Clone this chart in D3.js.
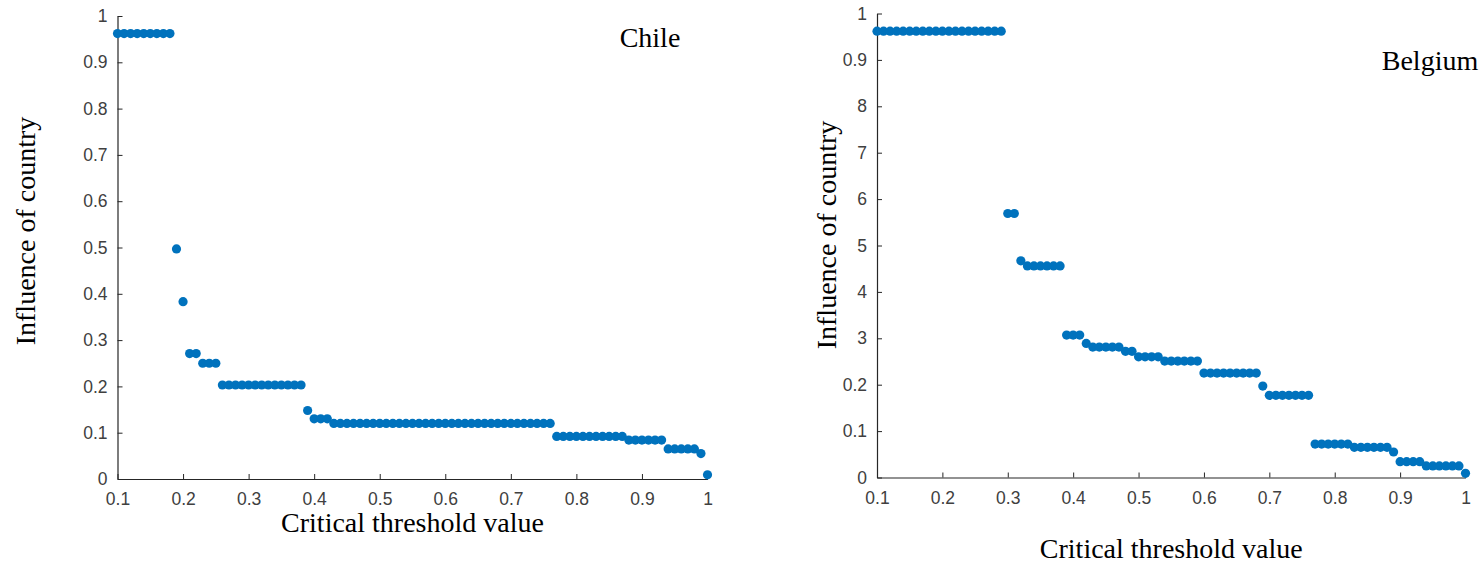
<!DOCTYPE html>
<html>
<head>
<meta charset="utf-8">
<script src="https://cdn.jsdelivr.net/npm/d3@7"></script>
<style>
  body { margin: 0; background: #fff; }
  svg { display: block; }
  .tick text { font-family: "Liberation Sans", Arial, sans-serif; font-size: 17.5px; fill: #404040; }
  .title { font-family: "Liberation Serif", "Times New Roman", serif; font-size: 28px; fill: #000; }
</style>
</head>
<body>
<svg id="chart" width="1484" height="563"></svg>
<script>
// Critical threshold values (shared x positions)
const thresholds = [
  0.10, 0.11, 0.12, 0.13, 0.14, 0.15, 0.16, 0.17, 0.18, 0.19,
  0.20, 0.21, 0.22, 0.23, 0.24, 0.25, 0.26, 0.27, 0.28, 0.29,
  0.30, 0.31, 0.32, 0.33, 0.34, 0.35, 0.36, 0.37, 0.38, 0.39,
  0.40, 0.41, 0.42, 0.43, 0.44, 0.45, 0.46, 0.47, 0.48, 0.49,
  0.50, 0.51, 0.52, 0.53, 0.54, 0.55, 0.56, 0.57, 0.58, 0.59,
  0.60, 0.61, 0.62, 0.63, 0.64, 0.65, 0.66, 0.67, 0.68, 0.69,
  0.70, 0.71, 0.72, 0.73, 0.74, 0.75, 0.76, 0.77, 0.78, 0.79,
  0.80, 0.81, 0.82, 0.83, 0.84, 0.85, 0.86, 0.87, 0.88, 0.89,
  0.90, 0.91, 0.92, 0.93, 0.94, 0.95, 0.96, 0.97, 0.98, 0.99,
  1.00
];

// Influence of Chile
const chileValues = [
  0.962, 0.962, 0.962, 0.962, 0.962, 0.962, 0.962, 0.962, 0.962, 0.497,
  0.383, 0.271, 0.271, 0.250, 0.250, 0.250, 0.203, 0.203, 0.203, 0.203,
  0.203, 0.203, 0.203, 0.203, 0.203, 0.203, 0.203, 0.203, 0.203, 0.148,
  0.130, 0.130, 0.130, 0.120, 0.120, 0.120, 0.120, 0.120, 0.120, 0.120,
  0.120, 0.120, 0.120, 0.120, 0.120, 0.120, 0.120, 0.120, 0.120, 0.120,
  0.120, 0.120, 0.120, 0.120, 0.120, 0.120, 0.120, 0.120, 0.120, 0.120,
  0.120, 0.120, 0.120, 0.120, 0.120, 0.120, 0.120, 0.092, 0.092, 0.092,
  0.092, 0.092, 0.092, 0.092, 0.092, 0.092, 0.092, 0.092, 0.084, 0.084,
  0.084, 0.084, 0.084, 0.084, 0.065, 0.065, 0.065, 0.065, 0.065, 0.055,
  0.009
];

// Influence of Belgium
const belgiumValues = [
  0.962, 0.962, 0.962, 0.962, 0.962, 0.962, 0.962, 0.962, 0.962, 0.962,
  0.962, 0.962, 0.962, 0.962, 0.962, 0.962, 0.962, 0.962, 0.962, 0.962,
  0.569, 0.569, 0.467, 0.456, 0.456, 0.456, 0.456, 0.456, 0.456, 0.307,
  0.307, 0.307, 0.289, 0.281, 0.281, 0.281, 0.281, 0.281, 0.272, 0.272,
  0.260, 0.260, 0.260, 0.260, 0.251, 0.251, 0.251, 0.251, 0.251, 0.251,
  0.225, 0.225, 0.225, 0.225, 0.225, 0.225, 0.225, 0.225, 0.225, 0.197,
  0.177, 0.177, 0.177, 0.177, 0.177, 0.177, 0.177, 0.072, 0.072, 0.072,
  0.072, 0.072, 0.072, 0.065, 0.065, 0.065, 0.065, 0.065, 0.065, 0.055,
  0.034, 0.034, 0.034, 0.034, 0.025, 0.025, 0.025, 0.025, 0.025, 0.025,
  0.009
];

// Tick values and labels
const xTicks = [0.1, 0.2, 0.3, 0.4, 0.5, 0.6, 0.7, 0.8, 0.9, 1];
const xTickLabels = ["0.1", "0.2", "0.3", "0.4", "0.5", "0.6", "0.7", "0.8", "0.9", "1"];
const yTicks = [0, 0.1, 0.2, 0.3, 0.4, 0.5, 0.6, 0.7, 0.8, 0.9, 1];
const chileYLabels = ["0", "0.1", "0.2", "0.3", "0.4", "0.5", "0.6", "0.7", "0.8", "0.9", "1"];
// the Belgium panel really carries these odd labels
const belgiumYLabels = ["0", "0.1", "0.2", "3", "4", "5", "6", "7", "8", "0.9", "1"];

const svg = d3.select("#chart");
const dotColor = "#0072BD";
const axisColor = "#262626";

function drawPanel(opts) {
    const x = d3.scaleLinear().domain([0.1, 1]).range([opts.left, opts.right]);
    const y = d3.scaleLinear().domain([0, 1]).range([opts.bottom, opts.top]);
    const g = svg.append("g");

    const xAxis = d3.axisBottom(x)
        .tickValues(xTicks)
        .tickFormat((d, i) => xTickLabels[i])
        .tickSizeInner(-5)
        .tickSizeOuter(0)
        .tickPadding(14);

    const yAxis = d3.axisLeft(y)
        .tickValues(yTicks)
        .tickFormat((d, i) => opts.yLabels[i])
        .tickSizeInner(-5)
        .tickSizeOuter(0)
        .tickPadding(10);

    const gx = g.append("g")
        .attr("transform", `translate(0,${opts.bottom})`)
        .call(xAxis);
    const gy = g.append("g")
        .attr("transform", `translate(${opts.left},0)`)
        .call(yAxis);

    [gx, gy].forEach(a => {
        a.selectAll("path.domain").attr("stroke", axisColor).attr("stroke-width", 1.2);
        a.selectAll(".tick line").attr("stroke", axisColor);
    });

    g.append("g")
        .selectAll("circle")
        .data(thresholds.map((t, i) => [t, opts.values[i]]))
        .join("circle")
        .attr("cx", d => x(d[0]))
        .attr("cy", d => y(d[1]))
        .attr("r", 4.6)
        .attr("fill", dotColor);

    // axis titles
    g.append("text")
        .attr("class", "title")
        .attr("text-anchor", "middle")
        .attr("x", (opts.left + opts.right) / 2)
        .attr("y", opts.xTitleY)
        .text("Critical threshold value");

    g.append("text")
        .attr("class", "title")
        .attr("text-anchor", "middle")
        .attr("transform", `translate(${opts.yTitleX},${opts.yTitleMid}) rotate(-90)`)
        .text("Influence of country");

    g.append("text")
        .attr("class", "title")
        .attr("text-anchor", "middle")
        .attr("x", opts.nameX)
        .attr("y", opts.nameY)
        .text(opts.name);
}

drawPanel({
    left: 117.5, right: 707.5, top: 16, bottom: 479,
    values: chileValues, yLabels: chileYLabels,
    xTitleY: 532, yTitleX: 35, yTitleMid: 231,
    name: "Chile", nameX: 650, nameY: 47
});

drawPanel({
    left: 877, right: 1465.5, top: 13.5, bottom: 477.5,
    values: belgiumValues, yLabels: belgiumYLabels,
    xTitleY: 558, yTitleX: 836, yTitleMid: 235,
    name: "Belgium", nameX: 1430, nameY: 70
});
</script>
</body>
</html>
